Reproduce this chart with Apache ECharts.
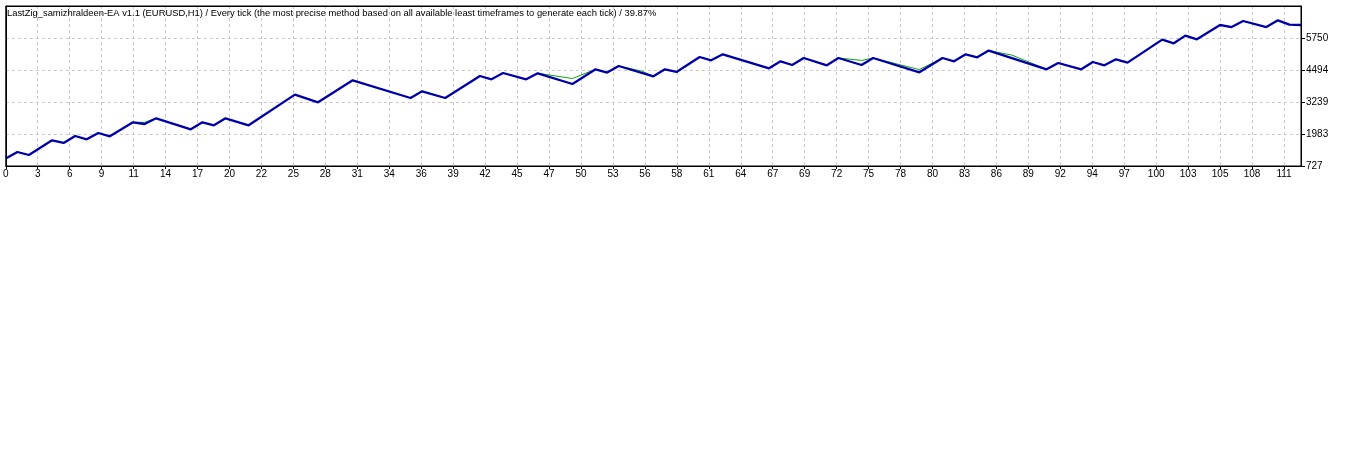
<!DOCTYPE html>
<html>
<head>
<meta charset="utf-8">
<script src="https://cdn.jsdelivr.net/npm/echarts@6/dist/echarts.min.js"></script>
<style>
  html, body { margin: 0; padding: 0; background: #ffffff; }
  #chart { width: 1346px; height: 460px; }
</style>
</head>
<body>
<div id="chart"></div>
<script>
// ---- data ----
const titleText = 'LastZig_samizhraldeen-EA v1.1 (EURUSD,H1) / Every tick (the most precise method based on all available least timeframes to generate each tick) / 39.87%';
const xTickLabels = ['0','3','6','9','11','14','17','20','22','25','28','31','34','36','39','42','45','47','50','53','56','58','61','64','67','69','72','75','78','80','83','86','89','92','94','97','100','103','105','108','111'];
const yMin = 727;
const yStep = 1255.75;
// trade numbers of balance turning points
const balanceTrades = [0,1,2,4,5,6,7,8,9,11,12,13,16,17,18,19,21,25,27,30,35,36,38,41,42,43,45,46,49,51,52,53,56,57,58,60,61,62,66,67,68,69,71,72,74,75,79,81,82,83,84,85,90,91,93,94,95,96,97,100,101,102,103,105,106,107,109,110,111,112];
// balance at those trades
const balanceValues = [1017,1276,1159,1736,1630,1904,1775,2022,1892,2442,2375,2599,2167,2442,2324,2599,2324,3529,3227,4090,3395,3658,3395,4259,4129,4376,4129,4365,3945,4522,4392,4651,4247,4522,4416,5004,4875,5110,4561,4835,4690,4965,4678,4965,4690,4965,4404,4965,4835,5110,4992,5255,4522,4769,4522,4808,4678,4914,4784,5687,5542,5844,5699,6260,6181,6417,6181,6444,6276,6260];
// equity where it differs from balance
const equityTrades = [12,49,55,74,79,87];
const equityValues = [2440,4160,4450,4870,4510,5080];

// ---- build series ----
const balanceData = balanceTrades.map((t, i) => [t, balanceValues[i]]);
const eqMap = new Map();
balanceTrades.forEach((t, i) => eqMap.set(t, balanceValues[i]));
equityTrades.forEach((t, i) => eqMap.set(t, equityValues[i]));
const equityData = Array.from(eqMap.entries()).sort((a, b) => a[0] - b[0]);

const FONT = "'Liberation Sans', Arial, sans-serif";
const gridLeft = 4, gridRight = 45, gridTop = 6, gridBottom = 294;
const plotW = 1346 - gridLeft - gridRight;
const xMax = 112;
const xInterval = xMax * 32 / plotW;
const yMax = yMin + 5 * yStep;
const dashed = { show: true, lineStyle: { color: '#c8c8c8', type: [3, 3], width: 1 } };
const frameLine = { show: true, onZero: false, lineStyle: { color: '#000000', width: 1 } };

const chart = echarts.init(document.getElementById('chart'), null, { renderer: 'canvas' });
chart.setOption({
  animation: false,
  backgroundColor: '#ffffff',
  title: {
    text: titleText,
    left: 7, top: 8,
    padding: 0,
    textStyle: { fontFamily: FONT, fontSize: 9.4, fontWeight: 'normal', color: '#000000', lineHeight: 11 }
  },
  grid: {
    left: gridLeft, right: gridRight, top: gridTop, bottom: gridBottom,
    show: true, borderColor: '#000000', borderWidth: 1, backgroundColor: '#ffffff'
  },
  xAxis: [{
    type: 'value', min: 0, max: xMax, interval: xInterval,
    axisLine: frameLine,
    axisTick: { show: true, length: 3, lineStyle: { color: '#000000' } },
    axisLabel: {
      show: true, margin: 3, fontFamily: FONT, fontSize: 10, color: '#000000',
      showMaxLabel: false,
      formatter: function (v) { const i = Math.round(v / xInterval); return xTickLabels[i] !== undefined && Math.abs(v - xMax) > 0.01 ? xTickLabels[i] : ''; }
    },
    splitLine: dashed
  }, {
    type: 'value', position: 'top', min: 0, max: xMax, z: 5,
    axisLine: frameLine, axisTick: { show: false }, axisLabel: { show: false }, splitLine: { show: false }
  }],
  yAxis: [{
    type: 'value', position: 'right', min: yMin, max: yMax, interval: yStep,
    axisLine: frameLine,
    axisTick: { show: true, length: 4, lineStyle: { color: '#000000' } },
    axisLabel: {
      show: true, margin: 5, fontFamily: FONT, fontSize: 10, color: '#000000',
      showMaxLabel: false,
      formatter: function (v) { return String(Math.round(v)); }
    },
    splitLine: dashed
  }, {
    type: 'value', position: 'left', min: yMin, max: yMax, z: 5,
    axisLine: frameLine, axisTick: { show: false }, axisLabel: { show: false }, splitLine: { show: false }
  }],
  series: [
    {
      name: 'Equity', type: 'line', data: equityData, showSymbol: false, symbol: 'none',
      xAxisIndex: 0, yAxisIndex: 0,
      lineStyle: { color: '#10a010', width: 1 }, z: 2
    },
    {
      name: 'Balance', type: 'line', data: balanceData, showSymbol: false, symbol: 'none',
      xAxisIndex: 0, yAxisIndex: 0,
      lineStyle: { color: '#0000aa', width: 2.3 }, z: 3
    }
  ]
});
</script>
</body>
</html>
